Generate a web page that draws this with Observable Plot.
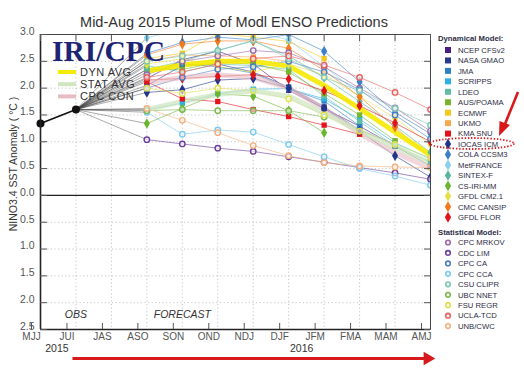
<!DOCTYPE html>
<html><head><meta charset="utf-8">
<script src="https://cdn.jsdelivr.net/npm/d3@7"></script>
<script src="https://cdn.jsdelivr.net/npm/@observablehq/plot@0.6"></script>
<style>
body{margin:0;background:#fff;font-family:"Liberation Sans",Arial,sans-serif;}
#wrap{position:relative;width:524px;height:369px;overflow:hidden;background:#fff;}
#wrap svg{position:absolute;left:0;top:0;}
</style></head>
<body><div id="wrap"></div>
<script>
// ---- categories / labels ----
const months = ["MJJ","JUI","JAS","ASO","SON","OND","NDJ","DJF","JFM","FMA","MAM","AMJ"];
const forecastMonths = ["ASO","SON","OND","NDJ","DJF","JFM","FMA","MAM","AMJ"];
const obsMonths = ["MJJ","JUI"];
const obsValues = [1.34, 1.6];
const yTicks = [-2.5,-2,-1.5,-1,-0.5,0,0.5,1,1.5,2,2.5,3];
const titleText = "Mid-Aug 2015 Plume of Modl ENSO Predictions";
const yTitle = "NINO3.4 SST Anomaly ( \u00B0C )";
const years = ["2015","2016"];

// ---- dynamical models (ASO..AMJ) ----
const ncepCFSv2  = [2.18,2.53,2.69,2.45,1.96,1.62,1.29,0.92,0.55];
const nasaGMAO   = [2.05,2.42,2.45,2.30,2.02,1.65,1.22,0.95,null];
const jma        = [2.30,2.45,2.40,2.28,1.99,1.76,1.30,null,null];
const scripps    = [1.60,1.72,1.90,1.98,1.99,1.80,1.42,0.98,0.68];
const ldeo       = [2.42,2.30,2.45,2.42,2.35,1.85,1.38,0.92,0.62];
const ausPOAMA   = [2.35,2.35,2.48,2.45,2.30,1.90,1.50,1.02,null];
const ecmwf      = [2.55,2.65,3.02,2.95,2.87,2.55,null,null,null];
const ukmo       = [2.50,2.62,2.60,2.58,2.50,null,null,null,null];
const kmaSNU     = [2.12,1.80,1.75,1.60,1.47,1.31,1.14,null,null];
const iocasICM   = [1.92,1.97,2.15,2.18,2.00,1.62,1.20,0.74,0.34];
const colaCCSM3  = [2.65,2.85,2.95,2.90,3.00,2.69,2.12,1.55,1.15];
const metFrance  = [2.94,3.10,3.10,3.05,2.90,2.40,1.90,null,null];
const sintexF    = [2.35,2.50,2.70,2.88,2.60,2.20,1.75,1.30,0.80];
const csIriMM    = [1.34,1.62,1.90,1.85,1.58,1.17,null,null,null];
const gfdlCM21   = [2.45,2.55,2.40,2.30,2.45,2.25,1.85,1.44,0.95];
const cmcCANSIP  = [2.62,2.82,2.88,2.88,2.74,2.33,1.84,1.27,0.70];
const gfdlFLOR   = [2.15,2.18,2.22,2.25,2.17,1.95,1.67,1.35,1.00];
// ---- statistical models ----
const cpcMRKOV   = [2.25,2.50,2.60,2.70,2.66,2.40,2.00,1.63,1.20];
const cdcLIM     = [1.04,0.96,0.88,0.82,0.72,0.62,0.52,0.42,0.30];
const cpcCA      = [2.00,2.20,2.35,2.40,2.50,2.30,1.97,1.50,1.05];
const cpcCCA     = [1.55,1.14,1.22,1.18,0.95,0.72,0.50,0.36,0.19];
const csuCLIPR   = [2.50,2.60,2.70,2.89,2.55,2.20,1.95,1.62,1.31];
const ubcNNET    = [1.58,1.60,1.58,1.58,1.58,1.46,null,null,null];
const fsuREGR    = [2.00,1.90,2.00,1.95,1.80,1.50,1.20,0.95,0.70];
const uclaTCD    = [2.20,2.30,2.45,2.55,2.60,2.43,2.20,1.92,1.60];
const unbCWC     = [1.62,1.40,1.17,0.93,0.74,0.61,0.55,0.53,0.52];
// ---- averages ----
const dynAvg  = [2.32,2.43,2.50,2.50,2.41,2.05,1.62,1.18,0.75];
const statAvg = [1.60,1.75,1.88,1.95,1.85,1.53,1.20,0.90,0.60];
const cpcCon  = [2.10,2.20,2.25,2.20,2.00,1.62,1.15,0.80,0.50];

const dynNames  = ["NCEP CFSv2","NASA GMAO","JMA","SCRIPPS","LDEO","AUS/POAMA","ECMWF","UKMO","KMA SNU","IOCAS ICM","COLA CCSM3","MetFRANCE","SINTEX-F","CS-IRI-MM","GFDL CM2.1","CMC CANSIP","GFDL FLOR"];
const dynSeries = [ncepCFSv2,nasaGMAO,jma,scripps,ldeo,ausPOAMA,ecmwf,ukmo,kmaSNU,iocasICM,colaCCSM3,metFrance,sintexF,csIriMM,gfdlCM21,cmcCANSIP,gfdlFLOR];
const dynColors = ["#4b1e86","#283a8c","#2f7fc4","#2ab4e6","#62bda6","#77b52e","#f2c81c","#f6a94e","#e4131c","#23358a","#3a80c9","#86d0f0","#58b79c","#6bb52f","#e6e044","#f07a1c","#e0151a"];
const dynShapes = ["square","square","square","square","square","square","square","square","square","diamond","diamond","diamond","diamond","diamond","diamond","diamond","diamond"];
const statNames  = ["CPC MRKOV","CDC LIM","CPC CA","CPC CCA","CSU CLIPR","UBC NNET","FSU REGR","UCLA-TCD","UNB/CWC"];
const statSeries = [cpcMRKOV,cdcLIM,cpcCA,cpcCCA,csuCLIPR,ubcNNET,fsuREGR,uclaTCD,unbCWC];
const statColors = ["#9b6aa6","#6b3d9a","#4b7ec4","#7dcaef","#7cc5b2","#79b84f","#dfe04e","#e8625e","#f2b07c"];
const avgNames  = ["DYN AVG","STAT AVG","CPC CON"];
const avgSeries = [dynAvg,statAvg,cpcCon];
const avgColors = ["#f6ea00","#cfe6c0","#e8bcc3"];
const avgOpacity = [0.9,0.75,0.6];

// ---- build tables ----
const mi = m => months.indexOf(m);
const models = [
  ...dynNames.map((n,k)=>({name:n,values:dynSeries[k],color:dynColors[k],shape:dynShapes[k]})),
  ...statNames.map((n,k)=>({name:n,values:statSeries[k],color:statColors[k],shape:"circle"}))
];
const rows = models.flatMap(m => m.values.map((v,k)=> v==null?null:{name:m.name,color:m.color,shape:m.shape,i:mi(forecastMonths[k]),v}).filter(Boolean));
const avgRows = avgNames.flatMap((n,k)=> avgSeries[k].map((v,j)=>({name:n,color:avgColors[k],op:avgOpacity[k],i:mi(forecastMonths[j]),v})));
const obsRows = obsMonths.map((m,k)=>({i:mi(m),v:obsValues[k]}));
const lastObs = obsRows[obsRows.length-1];
const fan = models.map(m=>({x1:lastObs.i,y1:lastObs.v,x2:mi(forecastMonths[0]),y2:m.values[0]}));

const grid = {stroke:"#b8b8b8",strokeDasharray:"1.2,2.4",strokeWidth:0.8};
const avgMarks = avgNames.slice().reverse().map(n =>
  Plot.line(avgRows.filter(d=>d.name===n),{x:"i",y:"v",stroke:"color",strokeWidth:5,strokeOpacity:avgRows.find(d=>d.name===n).op,clip:true}));
const chart = Plot.plot({
  width:524,height:369,marginLeft:40,marginRight:94,marginTop:34,marginBottom:40,
  style:{fontFamily:"'Liberation Sans',Arial,sans-serif",fontSize:"10px",background:"transparent",color:"#333"},
  x:{type:"linear",domain:[0,months.length-1]},
  y:{domain:[yTicks[0],yTicks[yTicks.length-1]]},
  color:{type:"identity"},
  marks:[
    Plot.ruleX(d3.range(months.length),{...grid}),
    Plot.ruleY(yTicks,{...grid}),
    Plot.ruleY([0],{stroke:"#222",strokeWidth:1.2}),
    Plot.link(fan,{x1:"x1",y1:"y1",x2:"x2",y2:"y2",stroke:"#444",strokeWidth:0.6,strokeOpacity:0.75}),
    Plot.line(rows,{x:"i",y:"v",z:"name",stroke:"color",strokeWidth:1,strokeOpacity:0.6,clip:true}),
    ...avgMarks,
    Plot.dot(rows.filter(d=>d.shape==="square"),{x:"i",y:"v",symbol:"square",fill:"color",r:3,clip:true}),
    Plot.dot(rows.filter(d=>d.shape==="diamond"),{x:"i",y:"v",symbol:"diamond",fill:"color",r:3.2,clip:true}),
    Plot.dot(rows.filter(d=>d.shape==="circle"),{x:"i",y:"v",symbol:"circle",stroke:"color",fill:"white",fillOpacity:0.6,strokeWidth:1.4,r:2.7,clip:true}),
    Plot.line(obsRows,{x:"i",y:"v",stroke:"#111",strokeWidth:1.6}),
    Plot.dot(obsRows,{x:"i",y:"v",fill:"#111",r:4}),
    Plot.text(["OBS"],{x:()=>mi("JUI"),frameAnchor:"bottom",dy:-12,fontStyle:"italic",fontSize:10.5,fill:"#333"}),
    Plot.text(["FORECAST"],{x:()=>mi("SON"),frameAnchor:"bottom",dy:-12,fontStyle:"italic",fontSize:10.5,fill:"#333"}),
    Plot.frame({stroke:"#444",strokeWidth:1}),
    Plot.ruleX([0],{stroke:"#222",strokeWidth:1.6}),
    Plot.ruleY([yTicks[0]],{stroke:"#222",strokeWidth:1.6}),
    Plot.axisY(yTicks,{anchor:"left",tickSize:-7,tickFormat:()=>"",label:null,color:"#555"}),
    Plot.text(yTicks,{y:d=>d,frameAnchor:"left",text:d=>Math.abs(d).toFixed(1),textAnchor:"end",dx:-6,dy:-3,fontSize:10.5,fill:"#555"}),
    Plot.axisY(yTicks,{anchor:"right",tickSize:-7,tickFormat:()=>"",label:null,color:"#555"}),
    Plot.axisX(d3.range(months.length),{anchor:"bottom",tickSize:-6,tickPadding:9,tickFormat:i=>months[i],label:null,fontSize:10,color:"#555",dx:-9}),
    Plot.axisX(d3.range(months.length),{anchor:"top",tickSize:-6,tickFormat:()=>"",label:null,color:"#555"}),
    Plot.text([years[0]],{x:()=>mi("JUI"),frameAnchor:"bottom",dy:22,dx:-19,fontSize:10.5,fill:"#333"}),
    Plot.text([years[1]],{x:()=>mi("DJF"),frameAnchor:"bottom",dy:22,dx:13,fontSize:10.5,fill:"#333"}),
    Plot.ruleY([yTicks[0]],{x1:()=>mi("JUI"),x2:()=>mi("AMJ"),dy:29,dx:-3,stroke:"#d7191c",strokeWidth:3}),
    Plot.dot([yTicks[0]],{x:()=>mi("AMJ"),y:d=>d,dy:29,dx:-3,symbol:"triangle",rotate:90,fill:"#d7191c",r:5})
  ]
});
const wrap = document.getElementById("wrap");
wrap.appendChild(chart);

// ---- overlay: title, axis title, logo, legends ----
const ov = d3.select(wrap).append("svg").attr("width",524).attr("height",369)
  .style("font-family","'Liberation Sans',Arial,sans-serif");
ov.append("text").attr("x",234).attr("y",27).attr("text-anchor","middle").attr("font-size",14.5).attr("fill","#333").text(titleText);
ov.append("text").attr("transform","translate(17,164) rotate(-90)").attr("text-anchor","middle").attr("font-size",10.5).attr("fill","#333").text(yTitle);
ov.append("text").attr("x",52).attr("y",60.5).attr("font-family","'Liberation Serif','Times New Roman',serif").attr("font-weight","bold").attr("font-size",29.5).attr("fill","#1c2473").text("IRI/CPC");
avgNames.forEach((n,k)=>{
  const y = 72 + k*12.2;
  ov.append("line").attr("x1",58).attr("x2",76).attr("y1",y).attr("y2",y).attr("stroke",avgColors[k]).attr("stroke-width",4);
  ov.append("text").attr("x",80).attr("y",y+4).attr("font-size",11).attr("letter-spacing",0.5).attr("fill","#333").text(n);
});
const lg = ov.append("g").attr("font-size",7.7).attr("fill","#2d2d45");
lg.append("text").attr("x",438).attr("y",40.5).attr("font-weight","bold").text("Dynamical Model:");
dynNames.forEach((n,k)=>{
  const y = 50 + k*10.45;
  const sym = dynShapes[k]==="square" ? d3.symbol(d3.symbolSquare,36) : d3.symbol(d3.symbolDiamond,34);
  lg.append("path").attr("d",sym()).attr("transform",`translate(448,${y})`).attr("fill",dynColors[k]);
  lg.append("text").attr("x",458).attr("y",y+2.8).text(n);
});
lg.append("text").attr("x",438).attr("y",234.5).attr("font-weight","bold").text("Statistical Model:");
statNames.forEach((n,k)=>{
  const y = 242.5 + k*10.45;
  lg.append("circle").attr("cx",448).attr("cy",y).attr("r",2.3).attr("fill","none").attr("stroke",statColors[k]).attr("stroke-width",1.6);
  lg.append("text").attr("x",458).attr("y",y+2.8).text(n);
});
ov.append("ellipse").attr("cx",472).attr("cy",143.5).attr("rx",42).attr("ry",5.5).attr("fill","none").attr("stroke","#d7191c").attr("stroke-width",1.8).attr("stroke-dasharray","1.4,1.8");
ov.append("line").attr("x1",518).attr("y1",92).attr("x2",505).attr("y2",124).attr("stroke","#d7191c").attr("stroke-width",2.6);
ov.append("path").attr("d","M499,136 L499.5,121 L510,125 Z").attr("fill","#d7191c");
</script>
</body></html>
